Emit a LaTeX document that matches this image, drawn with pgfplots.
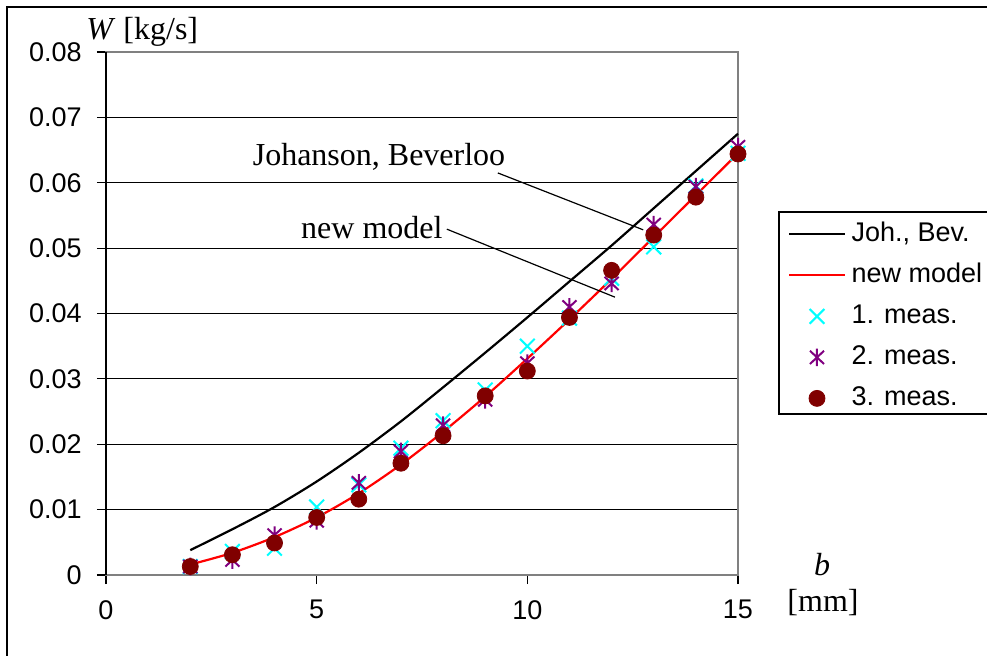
\documentclass[border=0pt]{standalone}
\usepackage{fontspec}
\setmainfont{Liberation Serif}
\newfontfamily\arial{Liberation Sans}
\usepackage{pgfplots}
\pgfplotsset{compat=1.18}
\definecolor{measA}{RGB}{0,255,255}
\definecolor{measB}{RGB}{128,0,128}
\definecolor{measC}{RGB}{128,0,0}
\definecolor{framegray}{RGB}{128,128,128}

% Excel-style star: vertical bar plus an x
\pgfdeclareplotmark{xstar}{%
  \pgfpathmoveto{\pgfqpoint{0pt}{\pgfplotmarksize}}%
  \pgfpathlineto{\pgfqpoint{0pt}{-\pgfplotmarksize}}%
  \pgfpathmoveto{\pgfqpoint{0.8\pgfplotmarksize}{0.75\pgfplotmarksize}}%
  \pgfpathlineto{\pgfqpoint{-0.8\pgfplotmarksize}{-0.75\pgfplotmarksize}}%
  \pgfpathmoveto{\pgfqpoint{-0.8\pgfplotmarksize}{0.75\pgfplotmarksize}}%
  \pgfpathlineto{\pgfqpoint{0.8\pgfplotmarksize}{-0.75\pgfplotmarksize}}%
  \pgfusepathqstroke}

\pgfplotstableread{
b    W
2    0.0038
3    0.0070
4    0.0104
5    0.0143
6    0.0187
7    0.0235
8    0.0287
9    0.0340
10   0.0394
11   0.0449
12   0.0504
13   0.0561
14   0.0618
15   0.0675
}\johbev
\pgfplotstableread{
b    W
2    0.0016
3    0.0034
4    0.0058
5    0.0088
6    0.0125
7    0.0169
8    0.0219
9    0.0273
10   0.0331
11   0.0391
12   0.0453
13   0.0517
14   0.0581
15   0.0645
}\newmodel
\pgfplotstableread{
b    W
2    0.0013
3    0.0036
4    0.0041
5    0.0104
6    0.0138
7    0.0194
8    0.0236
9    0.0283
10   0.0350
11   0.0393
12   0.0454
13   0.0502
14   0.0595
15   0.0645
}\measone
\pgfplotstableread{
b    W
2    0.0013
3    0.0023
4    0.0061
5    0.0083
6    0.0141
7    0.0189
8    0.0229
9    0.0268
10   0.0324
11   0.0410
12   0.0446
13   0.0536
14   0.0594
15   0.0655
}\meastwo
\pgfplotstableread{
b    W
2    0.0013
3    0.0031
4    0.0049
5    0.0088
6    0.0116
7    0.0171
8    0.0213
9    0.0274
10   0.0312
11   0.0394
12   0.0466
13   0.0520
14   0.0578
15   0.0644
}\measthree

\begin{document}
\begin{tikzpicture}
\useasboundingbox (0,0) rectangle (493.5pt,327.5pt);
% chart frame
\draw[line width=1pt] (3.25pt,-5pt) -- (3.25pt,324pt) -- (500pt,324pt);

\begin{axis}[
  at={(53pt,40pt)}, anchor=south west,
  scale only axis,
  width=316pt, height=261.5pt,
  xmin=0, xmax=15, ymin=0, ymax=0.08,
  scaled y ticks=false,
  xtick={0,5,10,15},
  xticklabels={0,5,10,15},
  ytick={0,0.01,0.02,0.03,0.04,0.05,0.06,0.07,0.08},
  yticklabels={0,0.01,0.02,0.03,0.04,0.05,0.06,0.07,0.08},
  tick pos=left, tick align=outside,
  major tick length=4.5pt,
  major tick style={black, line width=0.6pt},
  axis line style={framegray, line width=1pt},
  ymajorgrids,
  major grid style={black, line width=0.6pt},
  tick label style={font=\arial\fontsize{13.5}{16}\selectfont, inner sep=0pt},
  yticklabel style={anchor=east, xshift=-7.5pt},
  xticklabel style={anchor=north, yshift=-8pt},
  clip=false,
  legend style={draw=none, fill=none, inner sep=0pt,
    at={(axis description cs:1.0791,0.6769)}, anchor=north west,
    row sep=7.5pt, column sep=3pt,
    font=\arial\fontsize{13.5}{16}\selectfont,
    nodes={inner sep=0pt, text height=10pt, text depth=3pt}},
  legend cell align=left,
  legend image code/.code={\draw[mark repeat=2,mark phase=2]
    plot coordinates {(0pt,0pt) (13.75pt,0pt) (27.5pt,0pt)};},
]
\addplot[black, line width=1.1pt, smooth] table[x=b,y=W] {\johbev};
\addlegendentry{Joh., Bev.}
\addplot[red, line width=1.1pt, smooth] table[x=b,y=W] {\newmodel};
\addlegendentry{new model}
\addplot[only marks, mark=x, mark size=5.2pt, measA, line width=1pt] table[x=b,y=W] {\measone};
\addlegendentry{1. meas.}
\addplot[only marks, mark=xstar, mark size=4.4pt, measB, line width=1pt] table[x=b,y=W] {\meastwo};
\addlegendentry{2. meas.}
\addplot[only marks, mark=*, mark size=4pt, measC, mark options={draw=measC, fill=measC}] table[x=b,y=W] {\measthree};
\addlegendentry{3. meas.}

\draw[black, line width=0.6pt] (axis cs:0,0) -- (axis cs:0,0.08);
% annotations
\node[anchor=base, font=\fontsize{16}{19}\selectfont, inner sep=0pt] at (axis cs:6.48,0.0627) {Johanson, Beverloo};
\node[anchor=base, font=\fontsize{16}{19}\selectfont, inner sep=0pt] at (axis cs:6.31,0.0515) {new model};
\draw[black, line width=0.6pt] (axis cs:9.30,0.0615) -- (axis cs:12.75,0.0528);
\draw[black, line width=0.6pt] (axis cs:8.09,0.0529) -- (axis cs:12.08,0.0425);
\end{axis}

% legend box
\draw[line width=0.6pt] (389.5pt,120.5pt) rectangle (500pt,221.5pt);
% axis titles
\node[anchor=base west, inner sep=0pt, font=\fontsize{16}{19}\selectfont] at (43pt,307.5pt) {\textit{W} [kg/s]};
\node[anchor=base, inner sep=0pt, font=\fontsize{16}{19}\selectfont] at (411pt,40pt) {\textit{b}};
\node[anchor=base, inner sep=0pt, font=\fontsize{16}{19}\selectfont] at (411.5pt,22pt) {[mm]};
\end{tikzpicture}
\end{document}
